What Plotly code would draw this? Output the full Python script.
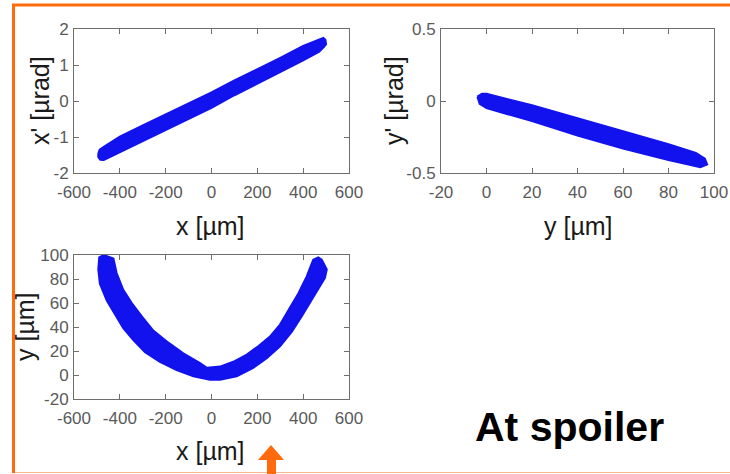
import plotly.graph_objects as go

# ---- data ----
# Panel 1: x [um] vs x' [urad] (edges of the particle cloud)
p1_upper_x = [-494, -488, -470, -400, -300, -200, -100, 0, 100, 200, 300, 400, 470, 488, 497]
p1_upper_y = [-1.46, -1.35, -1.27, -0.99, -0.68, -0.38, -0.06, 0.24, 0.57, 0.88, 1.20, 1.53, 1.71, 1.75, 1.70]
p1_lower_x = [500, 490, 470, 400, 300, 200, 100, 0, -100, -200, -300, -400, -470, -485, -494]
p1_lower_y = [1.58, 1.50, 1.37, 1.13, 0.81, 0.48, 0.16, -0.19, -0.50, -0.82, -1.12, -1.42, -1.64, -1.63, -1.56]

# Panel 2: y [um] vs y' [urad]
p2_upper_x = [-4, -2, 0, 20, 40, 60, 80, 92, 96]
p2_upper_y = [0.03, 0.05, 0.05, -0.03, -0.12, -0.21, -0.30, -0.36, -0.40]
p2_lower_x = [97, 94, 80, 60, 40, 20, 0, -3]
p2_lower_y = [-0.44, -0.46, -0.41, -0.33, -0.24, -0.14, -0.05, -0.02]

# Panel 3: x [um] vs y [um]
p3_outer_x = [-470, -490, -494, -487, -457, -421, -385, -341, -290, -225, -152, -79, -7, 37, 110, 182, 241, 299, 350, 394, 430, 466, 495, 503, 481, 466]
p3_outer_y = [100, 98, 88, 76, 62, 50, 39, 29, 19, 11, 4, -1, -4, -4, -1, 6, 14, 24, 36, 49, 60, 71, 81, 88, 96, 98]
p3_inner_x = [444, 415, 379, 342, 299, 255, 204, 154, 95, 37, -20, -50, -123, -196, -254, -305, -348, -385, -414, -428]
p3_inner_y = [96, 82, 68, 56, 42, 32, 24, 17, 11, 7, 6, 10, 18, 28, 37, 49, 60, 71, 85, 97]

x_ticks = [-600, -400, -200, 0, 200, 400, 600]
x_ticklabels = ["-600", "-400", "-200", "0", "200", "400", "600"]
xp_ticks = [-2, -1, 0, 1, 2]
xp_ticklabels = ["-2", "-1", "0", "1", "2"]
y_ticks = [-20, 0, 20, 40, 60, 80, 100]
y_ticklabels = ["-20", "0", "20", "40", "60", "80", "100"]
yp_ticks = [-0.5, 0, 0.5]
yp_ticklabels = ["-0.5", "0", "0.5"]

W, H = 730, 474
BLUE = "#1212ee"
ORANGE = "#ff6a0d"

def px(x):
    return x / W

def py(y):
    return 1 - y / H

fig = go.Figure()

def band(xs_a, ys_a, xs_b, ys_b, xa, ya):
    fig.add_trace(go.Scatter(
        x=xs_a + xs_b + [xs_a[0]], y=ys_a + ys_b + [ys_a[0]],
        mode="lines", fill="toself", fillcolor=BLUE,
        line=dict(color=BLUE, width=2),
        xaxis=xa, yaxis=ya, showlegend=False, hoverinfo="skip"))

band(p1_upper_x, p1_upper_y, p1_lower_x, p1_lower_y, "x", "y")
band(p2_upper_x, p2_upper_y, p2_lower_x, p2_lower_y, "x2", "y2")
band(p3_outer_x, p3_outer_y, p3_inner_x, p3_inner_y, "x3", "y3")

tickfont = dict(family="Liberation Sans, Arial, sans-serif", size=17, color="#5a5a5a")
common = dict(showgrid=False, zeroline=False, showline=True, linecolor="#6e6e6e",
              linewidth=1, mirror="ticks", ticks="inside", ticklen=5, tickcolor="#6e6e6e",
              tickfont=tickfont, automargin=False)

dom_x1 = [px(74), px(349)]
dom_x2 = [px(441), px(714)]
dom_yt = [py(173), py(29)]
dom_yb = [py(399), py(255)]

fig.update_layout(
    width=W, height=H, margin=dict(l=0, r=0, t=0, b=0),
    paper_bgcolor="white", plot_bgcolor="white", showlegend=False,
    xaxis=dict(domain=dom_x1, range=[-600, 600], tickvals=x_ticks, ticktext=x_ticklabels, anchor="y", ticklabelstandoff=4, **common),
    yaxis=dict(domain=dom_yt, range=[-2, 2], tickvals=xp_ticks, ticktext=xp_ticklabels, anchor="x", ticklabelstandoff=1, **common),
    xaxis2=dict(domain=dom_x2, range=[-20, 100], tickvals=y_ticks, ticktext=y_ticklabels, anchor="y2", ticklabelstandoff=4, **common),
    yaxis2=dict(domain=dom_yt, range=[-0.5, 0.5], tickvals=yp_ticks, ticktext=yp_ticklabels, anchor="x2", ticklabelstandoff=1, **common),
    xaxis3=dict(domain=dom_x1, range=[-600, 600], tickvals=x_ticks, ticktext=x_ticklabels, anchor="y3", ticklabelstandoff=4, **common),
    yaxis3=dict(domain=dom_yb, range=[-20, 100], tickvals=y_ticks, ticktext=y_ticklabels, anchor="x3", ticklabelstandoff=1, **common),
)

tfont = dict(family="Liberation Sans, Arial, sans-serif", size=25, color="#1a1a1a")
anns = [
    ("x [\u00b5m]", 211, 226, 0),
    ("x' [\u00b5rad]", 40, 101, -90),
    ("y [\u00b5m]", 578, 226, 0),
    ("y' [\u00b5rad]", 394, 101, -90),
    ("x [\u00b5m]", 211, 451, 0),
    ("y [\u00b5m]", 25, 327, -90),
]
for text, x, y, ang in anns:
    fig.add_annotation(text=text, x=px(x), y=py(y), xref="paper", yref="paper",
                       showarrow=False, textangle=ang, font=tfont,
                       xanchor="center", yanchor="middle")

fig.add_annotation(text="<b>At spoiler</b>", x=px(569), y=py(427), xref="paper", yref="paper",
                   showarrow=False, xanchor="center", yanchor="middle",
                   font=dict(family="Liberation Sans, Arial, sans-serif", size=41, color="black"))

# orange frame
fig.add_shape(type="line", xref="paper", yref="paper", x0=px(12), x1=1, y0=py(5), y1=py(5),
              line=dict(color=ORANGE, width=3))
fig.add_shape(type="line", xref="paper", yref="paper", x0=px(13.5), x1=px(13.5), y0=py(4), y1=py(473),
              line=dict(color=ORANGE, width=3))
fig.add_shape(type="line", xref="paper", yref="paper", x0=px(15), x1=1, y0=py(472.5), y1=py(472.5),
              line=dict(color="#f7b98f", width=1))

# orange arrow
pts = [(271, 445), (284, 460), (276, 460), (276, 474), (267, 474), (267, 460), (258, 460)]
path = "M " + " L ".join(f"{px(a):.5f},{py(b):.5f}" for a, b in pts) + " Z"
fig.add_shape(type="path", xref="paper", yref="paper", path=path,
              fillcolor=ORANGE, line=dict(color=ORANGE, width=0))

fig.write_html("out.html")
